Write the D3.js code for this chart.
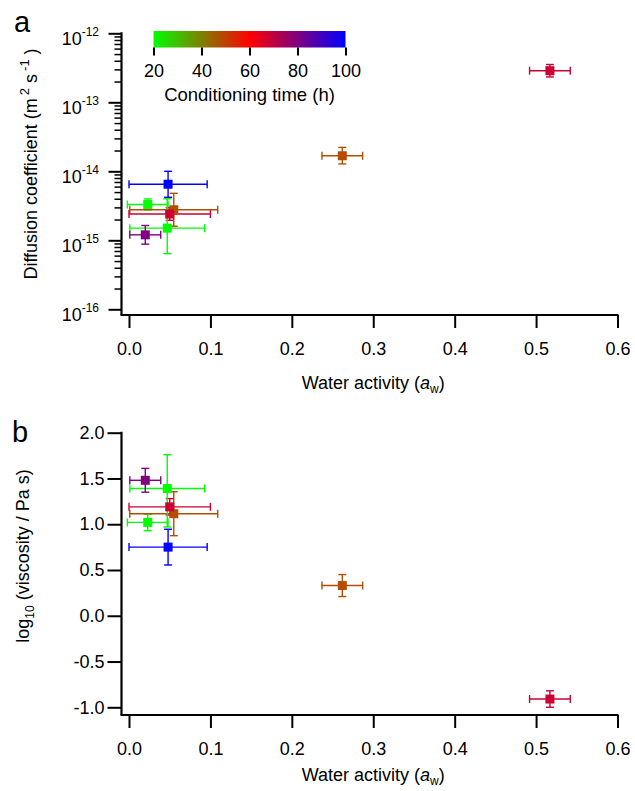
<!DOCTYPE html>
<html>
<head>
<meta charset="utf-8">
<script src="https://cdn.jsdelivr.net/npm/d3@7"></script>
<style>
    body { margin: 0; background: #fff; }
    svg text { font-family: "Liberation Sans", Arial, sans-serif; fill: #000; }
</style>
</head>
<body>
<svg id="chart" width="635" height="791"></svg>
<script>
// values
const aw = [0.048, 0.023, 0.055, 0.050, 0.047, 0.020, 0.262, 0.517];
const awErr = [0.048, 0.025, 0.054, 0.050, 0.046, 0.019, 0.025, 0.025];
const hours = [100, 20, 48, 68, 20, 80, 48, 68];

// panel a: diffusion coefficient (m2 s-1) and error bounds
const diffCoef = [6.5e-15, 3.3e-15, 2.77e-15, 2.4e-15, 1.5e-15, 1.2e-15, 1.68e-14, 2.87e-13];
const diffLo = [4.2e-15, 2.75e-15, 1.6e-15, 1.95e-15, 6.4e-16, 8.8e-16, 1.28e-14, 2.33e-13];
const diffHi = [1.0e-14, 3.98e-15, 4.8e-15, 2.95e-15, 4.0e-15, 1.64e-15, 2.22e-14, 3.53e-13];

// panel b: log10 viscosity and error bounds
const logVisc = [0.75, 1.02, 1.115, 1.19, 1.39, 1.48, 0.33, -0.91];
const viscLo = [0.555, 0.93, 0.875, 1.10, 0.97, 1.35, 0.21, -1.0];
const viscHi = [0.945, 1.11, 1.355, 1.28, 1.76, 1.61, 0.45, -0.82];

const xTicks = [0, 0.1, 0.2, 0.3, 0.4, 0.5, 0.6];
const logTicks = [1e-16, 1e-15, 1e-14, 1e-13, 1e-12];
const viscTicks = [-1, -0.5, 0, 0.5, 1, 1.5, 2];
const cbarTicks = [20, 40, 60, 80, 100];

const svg = d3.select("#chart");
const axisX = 121.5;

const x = d3.scaleLinear().domain([0, 0.6]).range([129, 617.5]);
const color = d3.scaleLinear()
    .domain([20, 60, 100])
    .range(["#00ff00", "#ff0000", "#0000ff"])
    .interpolate(d3.interpolateRgb);

function styleAxis(g, width) {
    g.attr("font-size", 18).attr("font-family", null);
    g.select(".domain").remove();
    g.selectAll("line").attr("stroke-width", width);
}

function drawXAxis(axisY, titleOffset) {
    svg.append("line")
        .attr("x1", axisX - 1).attr("x2", x(0.6) + 1)
        .attr("y1", axisY).attr("y2", axisY)
        .attr("stroke", "#000").attr("stroke-width", 2.2);

    svg.append("g")
        .attr("transform", `translate(0,${axisY})`)
        .call(d3.axisBottom(x).tickValues(xTicks).tickSize(13).tickPadding(14).tickFormat(d3.format(".1f")))
        .call(g => styleAxis(g, 2));

    const t = svg.append("text")
        .attr("x", (x(0) + x(0.6)) / 2)
        .attr("y", axisY + titleOffset)
        .attr("text-anchor", "middle")
        .attr("font-size", 18);
    t.append("tspan").text("Water activity (");
    t.append("tspan").attr("font-style", "italic").text("a");
    t.append("tspan").attr("font-size", 12).attr("dy", 4).text("w");
    t.append("tspan").attr("dy", -4).text(")");
}

function drawPoints(yScale, vals, lo, hi) {
    const g = svg.append("g");
    const cap = 4;
    aw.forEach((a, i) => {
        const c = color(hours[i]);
        const cx = x(a), cy = yScale(vals[i]);
        const x1 = x(a - awErr[i]), x2 = x(a + awErr[i]);
        const y1 = yScale(lo[i]), y2 = yScale(hi[i]);
        const segs = [
            [x1, cy, x2, cy], [x1, cy - cap, x1, cy + cap], [x2, cy - cap, x2, cy + cap],
            [cx, y1, cx, y2], [cx - cap, y1, cx + cap, y1], [cx - cap, y2, cx + cap, y2]
        ];
        g.selectAll(null).data(segs).enter().append("line")
            .attr("x1", d => d[0]).attr("y1", d => d[1])
            .attr("x2", d => d[2]).attr("y2", d => d[3])
            .attr("stroke", c).attr("stroke-width", 1.4);
    });
    g.selectAll("rect").data(aw).enter().append("rect")
        .attr("x", (d, i) => x(d) - 4.5)
        .attr("y", (d, i) => yScale(vals[i]) - 4.5)
        .attr("width", 9).attr("height", 9)
        .attr("fill", (d, i) => color(hours[i]));
}

// ---------- panel a ----------
const yA = d3.scaleLog().domain([1e-16, 1e-12]).range([309.3, 33.3]);
const axisYA = 315;

svg.append("line")
    .attr("x1", axisX).attr("x2", axisX)
    .attr("y1", yA(1e-12) - 1).attr("y2", axisYA)
    .attr("stroke", "#000").attr("stroke-width", 2.2);

svg.append("g")
    .attr("transform", `translate(${axisX},0)`)
    .call(d3.axisLeft(yA).tickValues(logTicks).tickSize(13).tickFormat(""))
    .call(g => styleAxis(g, 2));

const minorTicks = [];
for (let k = -16; k < -12; k++) {
    for (let m = 2; m <= 9; m++) minorTicks.push(m * Math.pow(10, k));
}
svg.append("g")
    .attr("transform", `translate(${axisX},0)`)
    .call(d3.axisLeft(yA).tickValues(minorTicks).tickSize(7).tickFormat(""))
    .call(g => styleAxis(g, 1.5));

logTicks.forEach(v => {
    const t = svg.append("text")
        .attr("x", 99).attr("y", yA(v) + 12)
        .attr("text-anchor", "end").attr("font-size", 18);
    t.append("tspan").text("10");
    t.append("tspan").attr("font-size", 12).attr("dy", -9.5).text(String(Math.round(Math.log10(v))));
});

drawXAxis(axisYA, 74);

const titleA = svg.append("text")
    .attr("transform", "translate(37,164) rotate(-90)")
    .attr("text-anchor", "middle").attr("font-size", 18);
titleA.append("tspan").text("Diffusion coefficient (m");
titleA.append("tspan").attr("font-size", 13).attr("dx", 3).attr("dy", -8).text("2");
titleA.append("tspan").attr("dy", 8).text(" s");
titleA.append("tspan").attr("font-size", 13).attr("dx", 3).attr("dy", -8).text("-1");
titleA.append("tspan").attr("dy", 8).text(" )");

svg.append("text").attr("x", 14).attr("y", 32).attr("font-size", 29).text("a");

drawPoints(yA, diffCoef, diffLo, diffHi);

// colour bar
const cx = d3.scaleLinear().domain([20, 100]).range([153.5, 345.5]);
const grad = svg.append("defs").append("linearGradient").attr("id", "cbar");
[20, 60, 100].forEach(h => {
    grad.append("stop")
        .attr("offset", (h - 20) / 80)
        .attr("stop-color", color(h));
});
svg.append("rect")
    .attr("x", cx(20)).attr("y", 31)
    .attr("width", cx(100) - cx(20)).attr("height", 16.5)
    .attr("fill", "url(#cbar)");
svg.append("g")
    .attr("transform", "translate(0,47.5)")
    .call(d3.axisBottom(cx).tickValues(cbarTicks).tickSize(8).tickPadding(9))
    .call(g => styleAxis(g, 2));
svg.append("text")
    .attr("x", cx(60)).attr("y", 101)
    .attr("text-anchor", "middle").attr("font-size", 18.5)
    .text("Conditioning time (h)");

// ---------- panel b ----------
const yB = d3.scaleLinear().domain([-1, 2]).range([707.3, 432.7]);
const axisYB = 715;

svg.append("line")
    .attr("x1", axisX).attr("x2", axisX)
    .attr("y1", yB(2) - 1).attr("y2", axisYB)
    .attr("stroke", "#000").attr("stroke-width", 2.2);

svg.append("g")
    .attr("transform", `translate(${axisX},0)`)
    .call(d3.axisLeft(yB).tickValues(viscTicks).tickSize(14).tickPadding(3)
        .tickFormat(d => d3.format(".1f")(d).replace("\u2212", "-")))
    .call(g => styleAxis(g, 2));

drawXAxis(axisYB, 66);

const titleB = svg.append("text")
    .attr("transform", "translate(29,556) rotate(-90)")
    .attr("text-anchor", "middle").attr("font-size", 18);
titleB.append("tspan").text("log");
titleB.append("tspan").attr("font-size", 12).attr("dy", 5).text("10");
titleB.append("tspan").attr("dy", -5).text(" (viscosity / Pa s)");

svg.append("text").attr("x", 12).attr("y", 442).attr("font-size", 29).text("b");

drawPoints(yB, logVisc, viscLo, viscHi);
</script>
</body>
</html>
